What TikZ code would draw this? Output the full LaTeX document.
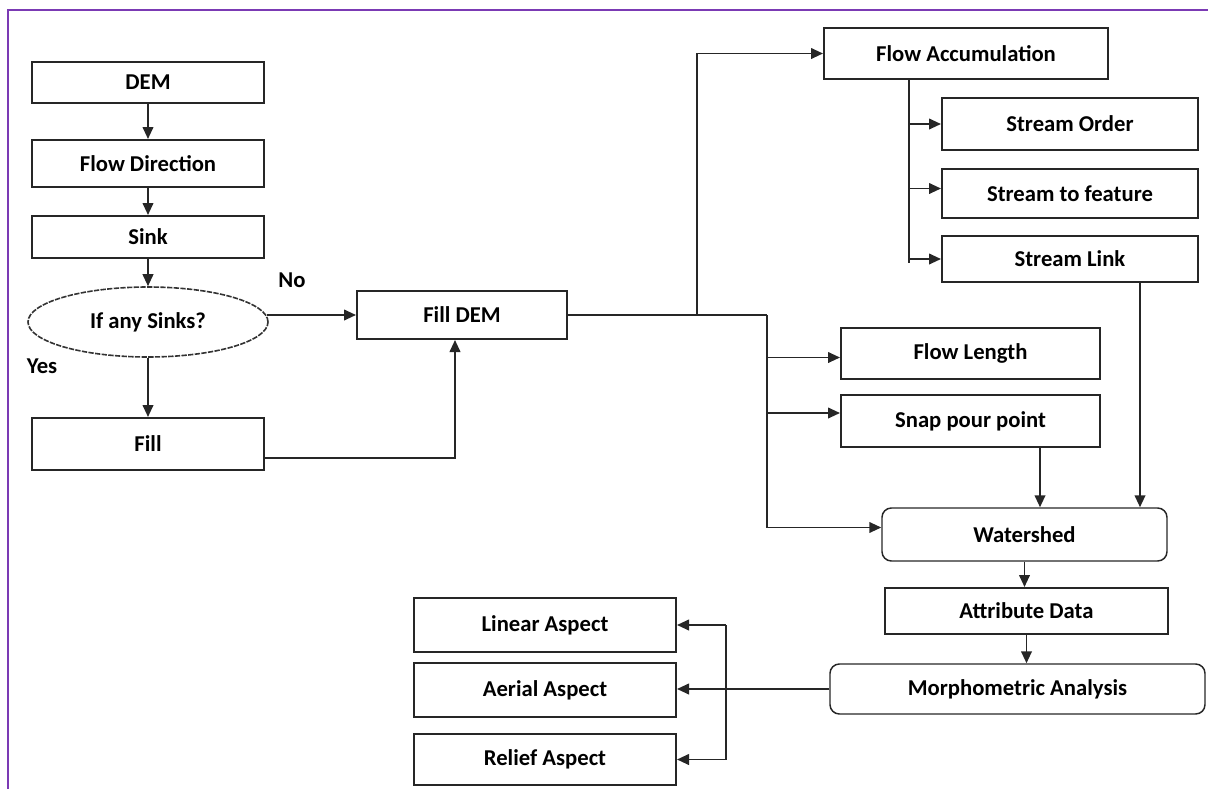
\documentclass[tikz,border=0pt]{standalone}
\usepackage{fontspec}
\setmainfont{Carlito}
\usetikzlibrary{arrows.meta,calc,shapes.geometric}
\definecolor{framepurple}{HTML}{7B3AB4}
\begin{document}
\begin{tikzpicture}[x=0.75pt,y=-0.75pt,
  font=\fontsize{17}{20}\selectfont\bfseries,
  box/.style={draw=black!85,line width=1.5pt,inner sep=0pt},
  rbox/.style={box,rounded corners=7pt,line width=1.1pt},
  conn/.style={draw=black!85,line width=1.4pt},
  arr/.style={conn,-{Triangle[length=9pt,width=8pt]}},
  lbl/.style={inner sep=0pt}]
\useasboundingbox (0,0) rectangle (1208,789);
\draw[framepurple,line width=2.2pt] (8,789) -- (8,10) -- (1208,10);

\node[box,minimum width=174pt,minimum height=30.75pt] (dem) at (148,82.5) {DEM};
\node[box,minimum width=174pt,minimum height=35.25pt] (fdir) at (148,163.5) {Flow Direction};
\node[box,minimum width=174pt,minimum height=31.5pt] (sink) at (148,237) {Sink};
\node[ellipse,draw=black!80,line width=1.2pt,dash pattern=on 4pt off 1pt,minimum width=180pt,minimum height=52.5pt,inner sep=0pt] (ell) at (148,322) {If any Sinks?};
\node[box,minimum width=174pt,minimum height=39pt] (fill) at (148,444) {Fill};
\node[box,minimum width=157.5pt,minimum height=36pt] (filldem) at (462,315) {Fill DEM};
\node[lbl] (no) at (292,280) {No};
\node[lbl] (yes) at (42,366) {Yes};

\node[box,minimum width=213pt,minimum height=38.25pt] (facc) at (966,53.5) {Flow Accumulation};
\node[box,minimum width=192pt,minimum height=39pt] (sorder) at (1070,124) {Stream Order};
\node[box,minimum width=192pt,minimum height=36.75pt] (sfeat) at (1070,193.5) {Stream to feature};
\node[box,minimum width=192pt,minimum height=34.5pt] (slink) at (1070,259) {Stream Link};
\node[box,minimum width=194.25pt,minimum height=38.25pt] (flen) at (970.5,353.5) {Flow Length};
\node[box,minimum width=194.25pt,minimum height=39pt] (snap) at (970.5,421) {Snap pour point};
\node[rbox,minimum width=213.75pt,minimum height=39.75pt] (wshed) at (1024.5,534.5) {Watershed};
\node[box,minimum width=212.25pt,minimum height=34.5pt] (attr) at (1026.5,611) {Attribute Data};
\node[rbox,minimum width=281.25pt,minimum height=37.5pt] (morph) at (1017.5,689) {Morphometric Analysis};
\node[box,minimum width=196.5pt,minimum height=40.5pt] (linear) at (545,625) {Linear Aspect};
\node[box,minimum width=196.5pt,minimum height=40.5pt] (aerial) at (545,690) {Aerial Aspect};
\node[box,minimum width=196.5pt,minimum height=38.25pt] (relief) at (545,759.5) {Relief Aspect};

\coordinate (j1) at (697,315);
\coordinate (j2) at (767,315);
\coordinate (k1) at (909,79);
\coordinate (k2) at (909,263);
\coordinate (k3) at (1140,0);
\coordinate (k4) at (1040,0);
\coordinate (k5) at (726,0);

\draw[arr] (dem.south) -- (fdir.north);
\draw[arr] (fdir.south) -- (sink.north);
\draw[arr] (sink.south) -- (ell.north);
\draw[arr] (ell.south) -- (fill.north);
\draw[arr] ($(filldem.west -| ell.east)+(-2,0)$) -- (filldem.west);
\draw[arr] ($(fill.east)+(0,14)$) -| ($(filldem.south)+(-7,0)$);
\draw[conn] (filldem.east) -- (j2);
\draw[arr] (j1) |- (facc.west);
\draw[arr] (j2) |- ($(wshed.west)+(0,-7)$);
\draw[arr] ($(flen.west -| j2)+(0,4)$) -- ($(flen.west)+(0,4)$);
\draw[arr] ($(snap.west -| j2)+(0,-8)$) -- ($(snap.west)+(0,-8)$);
\draw[conn] (k1) -- (k2);
\draw[arr] (sorder.west -| k1) -- (sorder.west);
\draw[arr] ($(sfeat.west -| k1)+(0,-5)$) -- ($(sfeat.west)+(0,-5)$);
\draw[arr] (slink.west -| k1) -- (slink.west);
\draw[arr] (slink.south -| k3) -- (wshed.north -| k3);
\draw[arr] (snap.south -| k4) -- (wshed.north -| k4);
\draw[arr] (wshed.south) -- (wshed.south |- attr.north);
\draw[arr] (attr.south) -- (attr.south |- morph.north);
\draw[arr] (morph.west) -- (morph.west -| aerial.east);
\draw[conn] (linear.east -| k5) -- (relief.east -| k5);
\draw[arr] (linear.east -| k5) -- (linear.east);
\draw[arr] (relief.east -| k5) -- (relief.east);
\end{tikzpicture}
\end{document}
